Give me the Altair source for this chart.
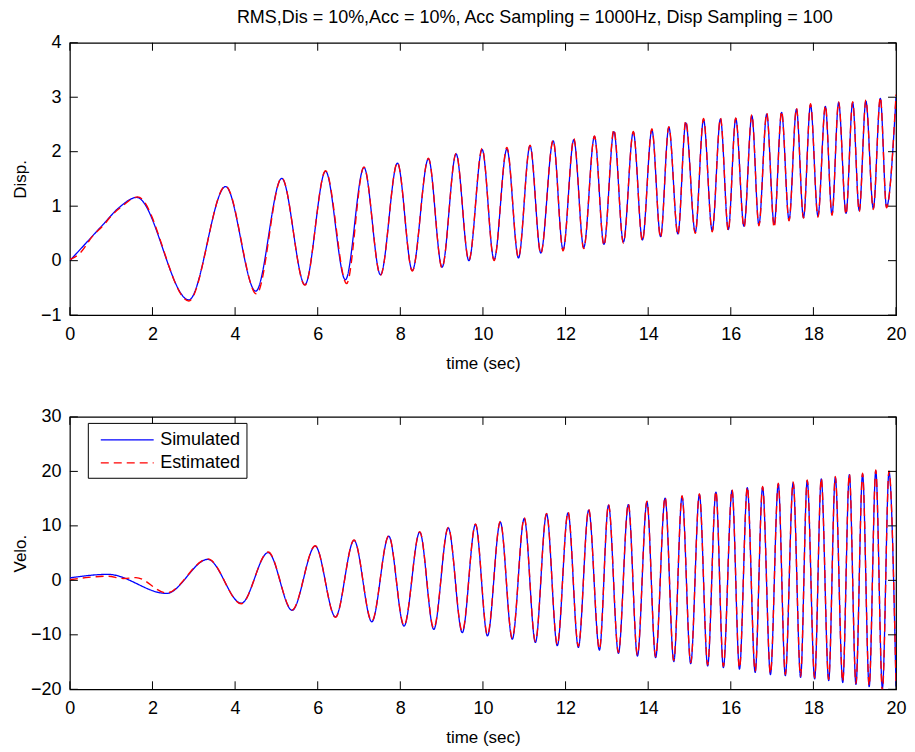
import altair as alt
import pandas as pd

# ---------------- data ----------------
disp_sim_t = [0.00, 0.40, 0.80, 1.20, 1.62, 2.88, 3.77, 4.50, 5.13, 5.69, 6.19, 6.67, 7.12, 7.52,
              7.93, 8.29, 8.68, 9.01, 9.35, 9.66, 9.98, 10.27, 10.58, 10.86, 11.14, 11.40, 11.70,
              11.94, 12.20, 12.44, 12.70, 12.93, 13.17, 13.40, 13.64, 13.86, 14.09, 14.30, 14.50,
              14.72, 14.91, 15.14, 15.34, 15.55, 15.75, 15.94, 16.12, 16.32, 16.51, 16.68, 16.87,
              17.05, 17.23, 17.41, 17.59, 17.76, 17.93, 18.11, 18.29, 18.45, 18.61, 18.79, 18.95,
              19.11, 19.27, 19.45, 19.62, 19.77, 20.00]
disp_sim_v = [0.00, 0.33, 0.66, 0.98, 1.16, -0.72, 1.36, -0.56, 1.51, -0.44, 1.64, -0.35, 1.71, -0.26,
              1.79, -0.18, 1.87, -0.12, 1.96, 0.00, 2.04, 0.02, 2.05, 0.05, 2.11, 0.14, 2.20,
              0.20, 2.22, 0.24, 2.28, 0.30, 2.37, 0.34, 2.36, 0.38, 2.40, 0.44, 2.45,
              0.49, 2.53, 0.52, 2.59, 0.55, 2.60, 0.57, 2.61, 0.63, 2.66, 0.66, 2.69,
              0.67, 2.72, 0.75, 2.78, 0.79, 2.86, 0.82, 2.83, 0.85, 2.90, 0.87, 2.90,
              0.92, 2.93, 0.96, 2.98, 0.99, 3.00]

disp_est_t = [0.00, 0.25, 0.55, 0.80, 1.05, 1.25, 1.64, 2.88, 3.77, 4.52, 5.13, 5.69,
              6.19, 6.70, 7.12, 7.52, 7.93, 8.29, 8.68, 9.01, 9.35, 9.66, 9.98, 10.27, 10.58,
              10.86, 11.14, 11.40, 11.70, 11.94, 12.20, 12.44, 12.70, 12.93, 13.17, 13.40, 13.64,
              13.86, 14.09, 14.30, 14.50, 14.72, 14.91, 15.14, 15.34, 15.55, 15.75, 15.94, 16.12,
              16.32, 16.51, 16.68, 16.87, 17.05, 17.23, 17.41, 17.59, 17.76, 17.93, 18.11, 18.29,
              18.45, 18.61, 18.79, 18.95, 19.11, 19.27, 19.45, 19.62, 19.77, 20.00]
disp_est_v = [0.02, 0.14, 0.45, 0.64, 0.86, 0.99, 1.17, -0.74, 1.37, -0.61, 1.52, -0.45,
              1.65, -0.42, 1.72, -0.27, 1.80, -0.19, 1.88, -0.13, 1.97, 0.01, 2.06, 0.00, 2.08,
              0.06, 2.12, 0.13, 2.21, 0.18, 2.24, 0.22, 2.29, 0.28, 2.41, 0.32, 2.37,
              0.36, 2.42, 0.42, 2.46, 0.47, 2.57, 0.50, 2.61, 0.53, 2.62, 0.55, 2.62,
              0.61, 2.68, 0.64, 2.71, 0.61, 2.74, 0.73, 2.80, 0.78, 2.88, 0.80, 2.85,
              0.83, 2.92, 0.85, 2.92, 0.90, 2.95, 0.94, 3.00, 0.97, 3.05]

velo_sim_t = [0.00, 0.92, 2.34, 3.34, 4.15, 4.80, 5.38, 5.94, 6.43, 6.88, 7.31, 7.72, 8.09, 8.47,
              8.81, 9.16, 9.50, 9.82, 10.11, 10.42, 10.71, 11.00, 11.27, 11.54, 11.80, 12.06,
              12.31, 12.56, 12.82, 13.04, 13.28, 13.52, 13.74, 13.97, 14.18, 14.41, 14.62, 14.82,
              15.03, 15.24, 15.44, 15.64, 15.82, 16.03, 16.21, 16.40, 16.59, 16.77, 16.96, 17.15,
              17.32, 17.51, 17.69, 17.85, 18.03, 18.19, 18.37, 18.53, 18.71, 18.87, 19.03, 19.19,
              19.35, 19.51, 19.67, 19.83, 20.00]
velo_sim_v = [0.45, 1.10, -2.40, 3.85, -4.20, 5.10, -5.50, 6.28, -6.70, 7.33, -7.60, 8.10, -8.40, 8.85,
              -9.00, 9.63, -9.60, 10.25, -10.20, 10.70, -10.80, 11.35, -11.40, 12.20, -12.00, 12.40,
              -12.30, 12.90, -12.80, 13.80, -13.40, 13.90, -13.90, 14.40, -14.20, 15.10, -14.90, 15.40,
              -15.30, 15.75, -15.70, 16.20, -16.00, 16.50, -16.30, 17.00, -16.90, 17.10, -17.30, 17.70,
              -17.50, 17.90, -17.80, 18.30, -18.10, 18.60, -18.40, 18.90, -18.75, 19.40, -19.10, 19.50,
              -19.50, 20.10, -19.80, 19.90, -19.50]

velo_est_t = [0.00, 0.45, 0.90, 1.30, 1.60, 2.34, 3.34, 4.15, 4.80, 5.38, 5.94, 6.43, 6.88, 7.31,
              7.72, 8.09, 8.47, 8.81, 9.16, 9.50, 9.82, 10.11, 10.42, 10.71, 11.00, 11.27, 11.54,
              11.80, 12.06, 12.31, 12.56, 12.82, 13.04, 13.28, 13.52, 13.74, 13.97, 14.18, 14.41,
              14.62, 14.82, 15.03, 15.24, 15.44, 15.64, 15.82, 16.03, 16.21, 16.40, 16.59, 16.77,
              16.96, 17.15, 17.32, 17.51, 17.69, 17.85, 18.03, 18.19, 18.37, 18.53, 18.71, 18.87,
              19.03, 19.19, 19.35, 19.51, 19.67, 19.83, 20.00]
velo_est_v = [0.10, 0.55, 0.75, 0.35, 0.50, -2.30, 3.95, -4.30, 5.20, -5.45, 6.35, -6.80, 7.40, -7.50,
              8.20, -8.30, 8.95, -8.80, 9.70, -9.40, 10.35, -10.00, 10.80, -10.60, 11.50, -11.20, 12.30,
              -11.80, 12.55, -12.10, 13.05, -12.60, 13.95, -13.20, 14.05, -13.70, 14.55, -14.00, 15.25,
              -14.70, 15.55, -15.10, 15.90, -15.50, 16.35, -15.80, 16.65, -16.10, 17.15, -16.70, 17.25,
              -17.10, 17.85, -17.30, 18.05, -17.60, 18.45, -17.90, 18.75, -18.20, 19.05, -18.55, 19.55,
              -18.90, 19.65, -19.30, 20.25, -20.40, 20.10, -19.20]

series_names = ["Simulated", "Estimated"]
series_colors = ["#0000ff", "#ff0000"]
x_ticks = [0, 2, 4, 6, 8, 10, 12, 14, 16, 18, 20]
disp_ticks = [-1, 0, 1, 2, 3, 4]
velo_ticks = [-20, -10, 0, 10, 20, 30]

title_text = "RMS,Dis = 10%,Acc = 10%, Acc Sampling = 1000Hz, Disp Sampling = 100"

# ---------------- chart ----------------
W, H = 828, 273
TICK = 8
FONT = "Liberation Sans"
XTITLE = "time (sec)"


def frame(df_t, df_v):
    return pd.DataFrame({"t": df_t, "v": df_v})


def panel(sim_t, sim_v, est_t, est_v, yticks, ydomain, ytitle, show_legend):
    sim = frame(sim_t, sim_v).assign(series="Simulated")
    est = frame(est_t, est_v).assign(series="Estimated")

    xenc = alt.X("t:Q", title=XTITLE,
                 scale=alt.Scale(domain=[0, 20], nice=False, zero=False),
                 axis=alt.Axis(values=x_ticks, ticks=False, grid=False, domain=False,
                               labelFlush=False, labelOverlap=False, labelFontSize=18,
                               labelFont=FONT, labelColor="black", labelPadding=10,
                               titleFont=FONT, titleFontSize=17, titleFontWeight="normal",
                               titleColor="black", titlePadding=12))
    yenc = alt.Y("v:Q", title=ytitle,
                 scale=alt.Scale(domain=ydomain, nice=False, zero=False),
                 axis=alt.Axis(values=yticks, ticks=False, grid=False, domain=False,
                               labelFlush=False, labelOverlap=False, labelFontSize=18,
                               labelFont=FONT, labelColor="black", labelPadding=9,
                               titleFont=FONT, titleFontSize=17, titleFontWeight="normal",
                               titleColor="black", titleX=-40, titleY=H / 2))

    cscale = alt.Scale(domain=series_names, range=series_colors)
    dscale = alt.Scale(domain=series_names, range=[[1, 0], [8, 5]])
    if show_legend:
        leg = alt.Legend(title=None, orient="none", legendX=18, legendY=6,
                         symbolType="M-2.65,0H2.65", symbolSize=400, symbolStrokeWidth=1.3,
                         symbolOffset=22.5,
                         labelFont=FONT, labelFontSize=18, labelColor="black",
                         labelOffset=22, strokeColor="black", fillColor="white",
                         padding=6, rowPadding=3)
        cenc = alt.Color("series:N", scale=cscale, legend=leg)
        denc = alt.StrokeDash("series:N", scale=dscale, legend=leg)
    else:
        cenc = alt.Color("series:N", scale=cscale, legend=None)
        denc = alt.StrokeDash("series:N", scale=dscale, legend=None)

    sim_line = alt.Chart(sim).mark_line(interpolate="monotone", strokeWidth=1.3, clip=True).encode(
        x=xenc, y=yenc, color=cenc, strokeDash=denc)
    est_line = alt.Chart(est).mark_line(interpolate="monotone", strokeWidth=1.4, clip=True).encode(
        x=alt.X("t:Q", title=XTITLE), y=alt.Y("v:Q", title=ytitle), color=cenc, strokeDash=denc)

    xt = alt.Chart(pd.DataFrame({"t": x_ticks}))
    yt = alt.Chart(pd.DataFrame({"v": yticks}))
    xtick_top = xt.mark_rule(color="black", strokeWidth=1).encode(
        x=alt.X("t:Q", title=XTITLE), y=alt.value(0), y2=alt.value(TICK))
    xtick_bot = xt.mark_rule(color="black", strokeWidth=1).encode(
        x=alt.X("t:Q", title=XTITLE), y=alt.value(H), y2=alt.value(H - TICK))
    ytick_l = yt.mark_rule(color="black", strokeWidth=1).encode(
        y=alt.Y("v:Q", title=ytitle), x=alt.value(0), x2=alt.value(TICK))
    ytick_r = yt.mark_rule(color="black", strokeWidth=1).encode(
        y=alt.Y("v:Q", title=ytitle), x=alt.value(W), x2=alt.value(W - TICK))

    return alt.layer(sim_line, est_line, xtick_top, xtick_bot, ytick_l, ytick_r).properties(
        width=W, height=H)


top = panel(disp_sim_t, disp_sim_v, disp_est_t, disp_est_v, disp_ticks, [-1, 4], "Disp.", False)
bottom = panel(velo_sim_t, velo_sim_v, velo_est_t, velo_est_v, velo_ticks, [-20, 30], "Velo.", True)

chart = alt.vconcat(top, bottom, spacing=35).resolve_scale(
    color="independent", strokeDash="independent").resolve_legend(
    color="independent", strokeDash="independent").properties(
    title=alt.TitleParams(title_text, anchor="start", dx=226, fontSize=18, font=FONT,
                          fontWeight="normal", color="black", offset=6),
    padding={"left": 3, "top": 0, "right": 0, "bottom": 0},
    background="white",
).configure_view(stroke="black", strokeWidth=1.2)

chart.save("out.html", embed_options={"renderer": "svg", "actions": False})
